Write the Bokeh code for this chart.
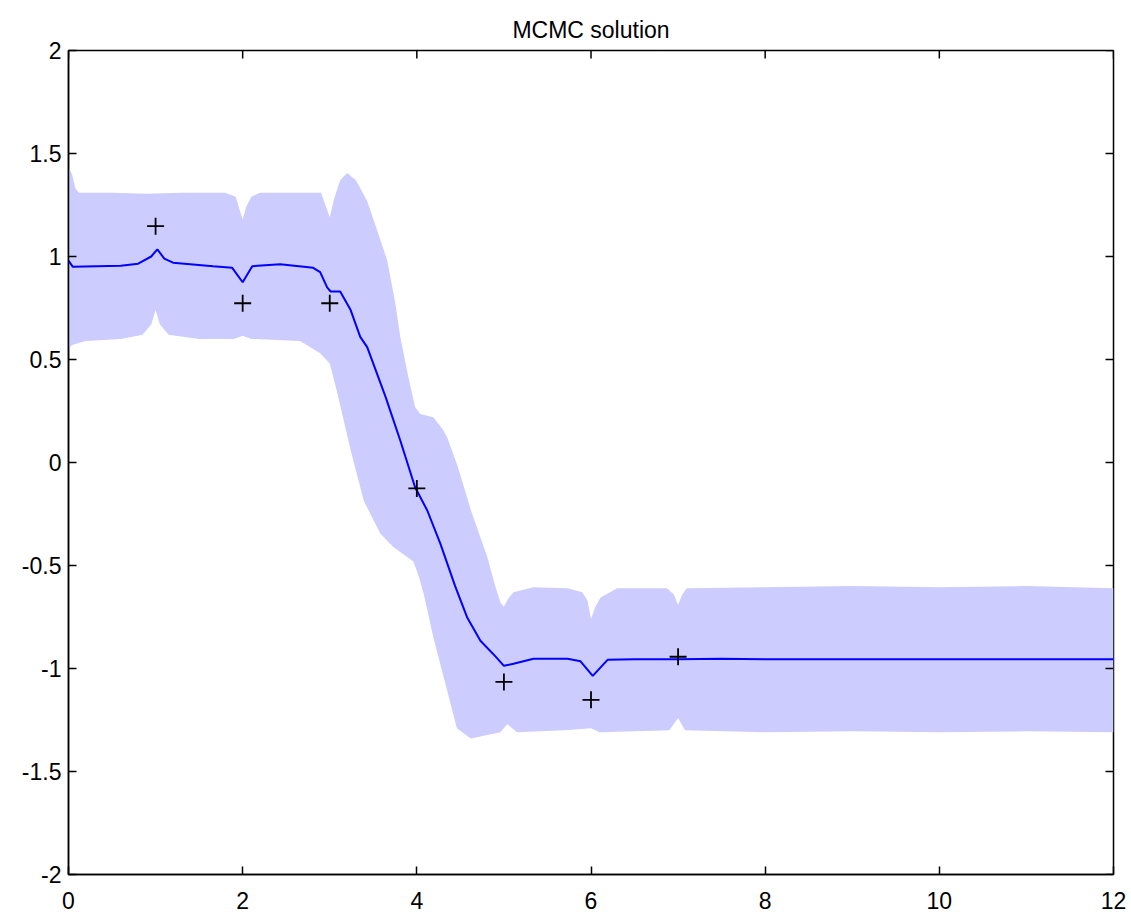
import math
from bokeh.plotting import figure
from bokeh.models import Range1d, FixedTicker
from bokeh.embed import file_html
from bokeh.resources import INLINE

title_text = "MCMC solution"
x_ticks = [0, 2, 4, 6, 8, 10, 12]
y_ticks = [-2, -1.5, -1, -0.5, 0, 0.5, 1, 1.5, 2]
x_tick_labels = ["0", "2", "4", "6", "8", "10", "12"]
y_tick_labels = ["-2", "-1.5", "-1", "-0.5", "0", "0.5", "1", "1.5", "2"]
x_lim = (0, 12)
y_lim = (-2, 2)

obs_x = [1, 2, 3, 4, 5, 6, 7]
obs_y = [1.147, 0.773, 0.773, -0.126, -1.065, -1.152, -0.943]

upper_x = [0, 0.04, 0.08, 0.12, 0.5, 0.9, 1.3, 1.8, 1.92, 1.97, 2.0, 2.04, 2.1, 2.2, 2.6, 2.9, 2.95,
           3.0, 3.05, 3.12, 3.2, 3.3, 3.43, 3.55, 3.66, 3.75, 3.81, 3.9, 3.98, 4.04, 4.19, 4.3, 4.35,
           4.47, 4.62, 4.81, 4.9, 4.96, 5.0, 5.05, 5.11, 5.34, 5.73, 5.9, 5.96, 6.0, 6.05, 6.11, 6.3,
           6.87, 6.95, 7.0, 7.05, 7.1, 8, 9, 10, 11, 12]
upper_y = [1.43, 1.40, 1.33, 1.31, 1.31, 1.305, 1.31, 1.31, 1.29, 1.22, 1.18, 1.24, 1.29, 1.31, 1.31, 1.31, 1.25,
           1.19, 1.28, 1.37, 1.405, 1.37, 1.27, 1.12, 0.98, 0.78, 0.61, 0.42, 0.27, 0.235, 0.22, 0.16, 0.12,
           -0.02, -0.23, -0.46, -0.60, -0.68, -0.70, -0.66, -0.63, -0.605, -0.61, -0.63, -0.67, -0.76, -0.70, -0.655, -0.61,
           -0.61, -0.64, -0.69, -0.64, -0.61, -0.605, -0.60, -0.605, -0.60, -0.61]

lower_x = [0, 0.04, 0.2, 0.6, 0.85, 0.95, 1.0, 1.05, 1.15, 1.5, 1.9, 2.0, 2.1, 2.66, 2.89, 3.0, 3.08,
           3.24, 3.39, 3.58, 3.73, 3.96, 4.02, 4.08, 4.19, 4.35, 4.46, 4.62, 4.96, 5.04, 5.15, 5.7, 6.0,
           6.1, 6.9, 7.0, 7.08, 8, 9, 10, 11, 12]
lower_y = [0.55, 0.57, 0.59, 0.60, 0.62, 0.67, 0.74, 0.67, 0.62, 0.60, 0.60, 0.615, 0.60, 0.59, 0.53, 0.48, 0.35,
           0.06, -0.185, -0.345, -0.41, -0.48, -0.55, -0.64, -0.85, -1.11, -1.29, -1.34, -1.31, -1.27, -1.31, -1.30, -1.29,
           -1.31, -1.30, -1.24, -1.30, -1.31, -1.305, -1.31, -1.305, -1.31]

mean_x = [0, 0.05, 0.6, 0.8, 0.95, 1.02, 1.1, 1.2, 1.66, 1.88, 2.0, 2.11, 2.43, 2.81, 2.89, 2.97, 3.01,
          3.12, 3.24, 3.35, 3.43, 3.64, 3.81, 3.98, 4.12, 4.27, 4.44, 4.58, 4.73, 4.9, 5.0, 5.11, 5.34,
          5.73, 5.88, 6.02, 6.19, 6.5, 7.0, 7.5, 8, 10, 11, 12]
mean_y = [0.98, 0.95, 0.955, 0.965, 1.0, 1.035, 0.99, 0.97, 0.953, 0.945, 0.875, 0.953, 0.962, 0.945, 0.924, 0.85, 0.83,
          0.83, 0.74, 0.61, 0.56, 0.32, 0.107, -0.12, -0.233, -0.394, -0.60, -0.754, -0.865, -0.94, -0.987, -0.977, -0.953,
          -0.953, -0.965, -1.036, -0.958, -0.955, -0.955, -0.953, -0.955, -0.955, -0.955, -0.955]

FONT = "Liberation Sans"

p = figure(width=1131, height=916, output_backend="svg", toolbar_location=None,
           x_range=Range1d(*x_lim), y_range=Range1d(*y_lim),
           min_border_left=68, min_border_right=18, min_border_top=50, min_border_bottom=42)

p.title.text = title_text
p.title.align = "center"
p.title.vertical_align = "top"
p.title.text_font = FONT
p.title.text_font_size = "23px"
p.title.text_font_style = "normal"
p.title.text_color = "black"
p.title.text_line_height = 1.0
p.title.offset = 0
p.title.standoff = 12

p.grid.visible = False
p.outline_line_color = "black"
p.outline_line_width = 1.5
p.outline_line_alpha = 1.0
p.background_fill_color = "white"
p.border_fill_color = "white"

band_xs = upper_x + lower_x[::-1]
band_ys = upper_y + lower_y[::-1]
p.patch(band_xs, band_ys, fill_color="#ccccff", line_color=None)

p.line(mean_x, mean_y, line_color="#0000ff", line_width=2)
p.scatter(obs_x, obs_y, marker="cross", size=17, line_color="black", line_width=1.8)

for ax in p.xaxis + p.yaxis:
    ax.major_tick_in = 8
    ax.major_tick_out = 0
    ax.minor_tick_in = 0
    ax.minor_tick_out = 0
    ax.axis_line_color = "black"
    ax.axis_line_width = 1.5
    ax.major_tick_line_width = 1.5
    ax.major_label_text_font = FONT
    ax.major_label_text_font_size = "23px"
    ax.major_label_text_color = "black"

p.xaxis.ticker = FixedTicker(ticks=x_ticks)
p.yaxis.ticker = FixedTicker(ticks=y_ticks)
p.xaxis.major_label_overrides = dict(zip(x_ticks, x_tick_labels))
p.yaxis.major_label_overrides = dict(zip(y_ticks, y_tick_labels))
p.xaxis.major_label_standoff = 17
p.yaxis.major_label_standoff = 7

# inward ticks on top and right edges of the box
p.ray(x=x_ticks, y=[y_lim[1]] * len(x_ticks), length=8, length_units="screen",
      angle=-math.pi / 2, line_color="black", line_width=1.5)
p.ray(x=[x_lim[1]] * len(y_ticks), y=y_ticks, length=8, length_units="screen",
      angle=math.pi, line_color="black", line_width=1.5)

open("out.html", "w").write(file_html(p, INLINE))
